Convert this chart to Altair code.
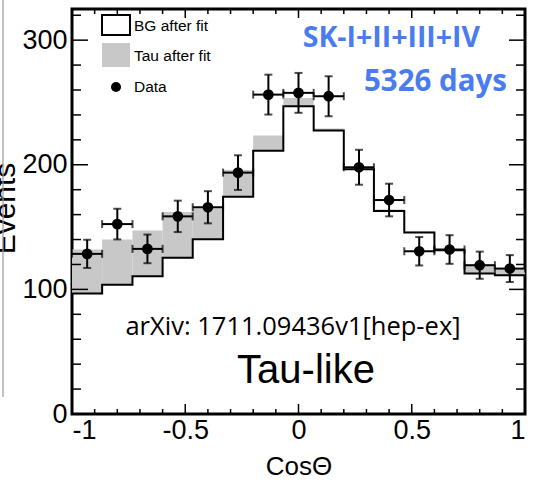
import altair as alt
import pandas as pd

# ---- data ----
bin_lo = [-1.0, -0.867, -0.733, -0.6, -0.467, -0.333, -0.2, -0.067, 0.067, 0.2, 0.333, 0.467, 0.6, 0.733, 0.867]
bin_hi = [-0.867, -0.733, -0.6, -0.467, -0.333, -0.2, -0.067, 0.067, 0.2, 0.333, 0.467, 0.6, 0.733, 0.867, 1.0]
bin_center = [-0.933, -0.8, -0.667, -0.533, -0.4, -0.267, -0.133, 0.0, 0.133, 0.267, 0.4, 0.533, 0.667, 0.8, 0.933]
bg_after_fit = [96.6, 103.8, 110.5, 125.3, 140.3, 174.4, 211.2, 246.9, 227.6, 196.5, 162.9, 145.7, 131.5, 112.7, 111.3]
bg_plus_tau = [132.0, 140.0, 147.3, 162.0, 165.0, 195.9, 223.5, 253.6, 229.2, 198.0, 164.2, 146.5, 132.0, 120.0, 116.7]
data_events = [128.5, 152.4, 132.5, 158.6, 165.9, 193.7, 256.3, 257.7, 255.0, 198.0, 171.7, 130.6, 132.0, 119.4, 116.7]
data_err = [11.3, 12.3, 11.5, 12.6, 12.9, 13.9, 16.0, 16.0, 16.0, 14.0, 13.1, 11.4, 11.5, 10.9, 10.8]

y_major = [100, 200, 300]
y_minor = [20, 40, 60, 80, 120, 140, 160, 180, 220, 240, 260, 280, 320]
x_major = [-0.5, 0.0, 0.5]
x_minor = [-0.9, -0.8, -0.7, -0.6, -0.4, -0.3, -0.2, -0.1, 0.1, 0.2, 0.3, 0.4, 0.6, 0.7, 0.8, 0.9]
y_labels = [0, 100, 200, 300]
x_labels = [-1, -0.5, 0, 0.5, 1]

W, H = 453, 405
GREY = "#c8c8c8"
BLUE = "#4a7cf0"
FONT = "Liberation Sans"

xscale = alt.Scale(domain=[-1, 1], nice=False, zero=False)
yscale = alt.Scale(domain=[0, 325], nice=False, zero=True)

bins = pd.DataFrame({"lo": bin_lo, "hi": bin_hi, "bg": bg_after_fit, "top": bg_plus_tau})
step = pd.DataFrame({"x": bin_lo + [bin_hi[-1]], "y": bg_after_fit + [bg_after_fit[-1]]})
pts = pd.DataFrame({"c": bin_center, "lo": bin_lo, "hi": bin_hi, "n": data_events, "e": data_err})

xaxis = alt.Axis(values=x_labels, format="~g", labelExpr="replace(datum.label, '\u2212', '-')",
                 labelFontSize=27, labelFont=FONT, labelColor="black", labelPadding=3,
                 ticks=False, tickSize=0, domain=False, grid=False,
                 title="Cos\u0398", titleFontSize=26, titleFont=FONT, titleFontWeight="normal",
                 titleColor="black", titleY=60, titleBaseline="alphabetic")
yaxis = alt.Axis(values=y_labels, labelFontSize=27, labelFont=FONT, labelColor="black",
                 labelPadding=5, ticks=False, tickSize=0, domain=False, grid=False,
                 title="Events", titleFontSize=30, titleFont=FONT, titleFontWeight="normal",
                 titleColor="black", titleAngle=270, titleX=-58, titleY=199,
                 titleBaseline="alphabetic", titleAlign="center")


def X(field):
    return alt.X(field, scale=xscale, axis=xaxis, title="Cos\u0398")


def Y(field):
    return alt.Y(field, scale=yscale, axis=yaxis, title="Events")


tau = alt.Chart(bins).mark_rect(color=GREY).encode(
    x=X("lo:Q"), x2="hi", y=Y("bg:Q"), y2="top")

bg_line = alt.Chart(step).mark_line(interpolate="step-after", color="black", strokeWidth=2).encode(
    x=X("x:Q"), y=Y("y:Q"))


def yticks(vals, length, right):
    x0, x1 = (W - length, W) if right else (0, length)
    return alt.Chart(pd.DataFrame({"v": vals})).mark_rule(color="black", strokeWidth=1.5).encode(
        y=Y("v:Q"), x=alt.value(x0), x2=alt.value(x1))


def xticks(vals, length, top):
    y0, y1 = (0, length) if top else (H - length, H)
    return alt.Chart(pd.DataFrame({"v": vals})).mark_rule(color="black", strokeWidth=1.5).encode(
        x=X("v:Q"), y=alt.value(y0), y2=alt.value(y1))


ticks = [yticks(y_minor, 9, False), yticks(y_major, 16, False),
         yticks(y_minor, 9, True), yticks(y_major, 16, True),
         xticks(x_minor, 5, False), xticks(x_major, 10, False),
         xticks(x_minor, 5, True), xticks(x_major, 9, True)]

base_pts = alt.Chart(pts).transform_calculate(elo="datum.n - datum.e", ehi="datum.n + datum.e")
yerr = base_pts.mark_rule(color="black", strokeWidth=2).encode(
    x=X("c:Q"), y=Y("elo:Q"), y2="ehi:Q")
xerr = base_pts.mark_rule(color="black", strokeWidth=2).encode(
    x=X("lo:Q"), x2="hi:Q", y=Y("n:Q"))
cap_lo = base_pts.mark_tick(orient="horizontal", size=8, thickness=2, color="black").encode(
    x=X("c:Q"), y=Y("elo:Q"))
cap_hi = base_pts.mark_tick(orient="horizontal", size=8, thickness=2, color="black").encode(
    x=X("c:Q"), y=Y("ehi:Q"))
cap_l = base_pts.mark_tick(orient="vertical", size=8, thickness=2, color="black").encode(
    x=X("lo:Q"), y=Y("n:Q"))
cap_r = base_pts.mark_tick(orient="vertical", size=8, thickness=2, color="black").encode(
    x=X("hi:Q"), y=Y("n:Q"))
dots = base_pts.mark_circle(size=115, color="black", opacity=1).encode(
    x=X("c:Q"), y=Y("n:Q"))

one = pd.DataFrame({"k": [0]})


def label(txt, x, y, size, color="black", weight="normal", align="left",
          baseline="middle", font=FONT):
    return alt.Chart(one).mark_text(text=txt, fontSize=size, font=font, color=color,
                                    fontWeight=weight, align=align, baseline=baseline).encode(
        x=alt.value(x), y=alt.value(y))


legend = [
    alt.Chart(one).mark_rect(fill="white", stroke="black", strokeWidth=2).encode(
        x=alt.value(30), x2=alt.value(58), y=alt.value(6), y2=alt.value(26)),
    alt.Chart(one).mark_rect(fill=GREY).encode(
        x=alt.value(30), x2=alt.value(58), y=alt.value(34), y2=alt.value(58)),
    alt.Chart(one).mark_circle(size=100, color="black", opacity=1).encode(
        x=alt.value(44), y=alt.value(78)),
    label("BG after fit", 62, 17, 15.5),
    label("Tau after fit", 62, 47, 15.5),
    label("Data", 62, 78, 15.5),
]

texts = [
    label("SK-I+II+III+IV", 408, 38, 28.5, color=BLUE, weight="bold", align="right",
          baseline="alphabetic", font="Open Sans"),
    label("5326 days", 435, 82, 29.5, color=BLUE, weight="bold", align="right",
          baseline="alphabetic", font="Open Sans"),
    label("arXiv: 1711.09436v1[hep-ex]", 221, 318, 25.5, align="center", font="Open Sans"),
    label("Tau-like", 234, 374, 40, align="center", baseline="alphabetic"),
]

edge = alt.Chart(one).mark_rule(color="#999999", strokeWidth=1.2).encode(
    x=alt.value(-69), y=alt.value(-9), y2=alt.value(388))

chart = alt.layer(tau, bg_line, *ticks, yerr, xerr, cap_lo, cap_hi, cap_l, cap_r, dots,
                  *legend, *texts, edge).properties(
    width=W, height=H,
    padding={"left": 72, "top": 9, "right": 8, "bottom": 68},
    autosize=alt.AutoSizeParams(type="none"),
    background="white",
).configure_view(stroke="black", strokeWidth=3)

chart.save("out.html", embed_options={"renderer": "svg", "actions": False})
